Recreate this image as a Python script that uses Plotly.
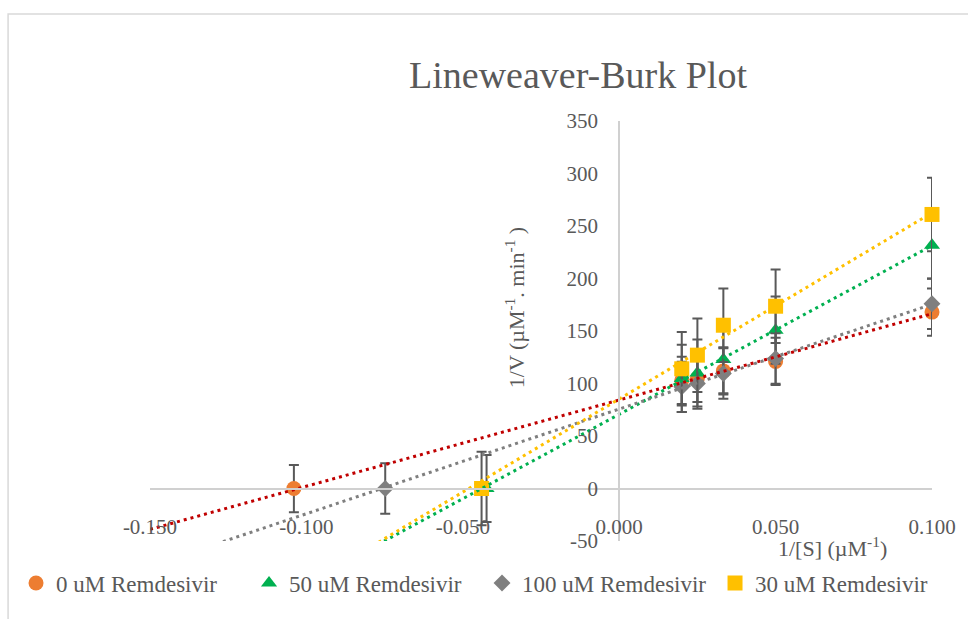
import numpy as np
import plotly.graph_objects as go

# ---- data ----
inv_s = [0.02, 0.025, 0.0333, 0.05, 0.1]          # 1/[S] (uM^-1)

series_names = ["0 uM Remdesivir", "50 uM Remdesivir", "100 uM Remdesivir", "30 uM Remdesivir"]
inv_v_0 = [103, 105, 112, 121, 168]
inv_v_50 = [104.8, 110, 122.8, 150.8, 231.7]
inv_v_100 = [96.8, 100, 109.5, 123.8, 176]
inv_v_30 = [114, 127, 155.5, 173.6, 261]
x_intercepts = [-0.104, -0.0424, -0.0748, -0.044]   # plotted -1/Km points (at 1/V = 0)
error_values = [22.5, 32, 24, 35]                   # error bar sizes per series

x_tickvals = [-0.15, -0.1, -0.05, 0.0, 0.05, 0.1]
x_ticktext = ["-0.150", "-0.100", "-0.050", "0.000", "0.050", "0.100"]
y_tickvals = [-50, 0, 50, 100, 150, 200, 250, 300, 350]
y_ticktext = ["-50", "0", "50", "100", "150", "200", "250", "300", "350"]

# ---- styling ----
marker_colors = ["#ED7D31", "#00B050", "#7F7F7F", "#FFC000"]
trend_colors = ["#C00000", "#00B050", "#7F7F7F", "#FFC000"]
symbols = ["circle", "triangle-up", "diamond", "square"]
sizes = [15, 14, 13, 15]
FONT = "Palatino Linotype, Book Antiqua, Palatino, Liberation Serif, serif"
TXT = "#595959"
X_RANGE = [-0.15, 0.1]
Y_RANGE = [-50, 350]

W, H = 968, 619
L, R, T, B = 150, 30, 121, 78
PW, PH = W - L - R, H - T - B

all_y = [inv_v_0, inv_v_50, inv_v_100, inv_v_30]

fig = go.Figure()

for name, ys, xi, err, col, sym, sz in zip(series_names, all_y, x_intercepts,
                                           error_values, marker_colors, symbols, sizes):
    xs = [xi] + inv_s
    yv = [0] + ys
    fig.add_trace(go.Scatter(
        x=xs, y=yv, mode="markers", name=name,
        marker=dict(symbol=sym, size=sz, color=col, line=dict(width=0)),
        error_y=dict(type="constant", value=err, color="#595959", thickness=2, width=5),
        cliponaxis=False,
    ))

# linear trendlines (fit on the measured points), forecast back to the axis start
for ys, col in zip(all_y, trend_colors):
    m, b = np.polyfit(inv_s, ys, 1)
    xs = np.array(X_RANGE)
    fig.add_trace(go.Scatter(
        x=xs, y=m * xs + b, mode="lines", showlegend=False, hoverinfo="skip",
        line=dict(color=col, width=3, dash="3px,4px"),
    ))

fig.update_layout(
    width=W, height=H,
    margin=dict(l=L, r=R, t=T, b=B),
    paper_bgcolor="white", plot_bgcolor="white",
    font=dict(family=FONT, color=TXT, size=20),
    title=dict(text="Lineweaver-Burk Plot", font=dict(size=38, color=TXT, family=FONT),
               x=578 / W, xref="container", xanchor="center",
               y=1 - 75 / H, yref="container", yanchor="middle"),
    showlegend=True,
    legend=dict(orientation="h", x=(15 - L) / PW, xanchor="left",
                y=(T + PH - 583) / PH, yanchor="middle",
                font=dict(size=23, color=TXT, family=FONT),
                itemwidth=30, entrywidth=188, entrywidthmode="pixels",
                bgcolor="rgba(0,0,0,0)"),
    xaxis=dict(range=X_RANGE, anchor="free", position=(0 - Y_RANGE[0]) / (Y_RANGE[1] - Y_RANGE[0]),
               tickvals=x_tickvals, ticktext=x_ticktext, showgrid=False, zeroline=False,
               showline=True, linecolor="#d0d0d0", linewidth=2,
               ticks="outside", ticklen=19, tickcolor="rgba(0,0,0,0)",
               tickfont=dict(size=21, color=TXT, family=FONT)),
    yaxis=dict(range=Y_RANGE, anchor="free", position=(0 - X_RANGE[0]) / (X_RANGE[1] - X_RANGE[0]),
               tickvals=y_tickvals, ticktext=y_ticktext, showgrid=False, zeroline=False,
               showline=True, linecolor="#d0d0d0", linewidth=2,
               ticks="outside", ticklen=16, tickcolor="rgba(0,0,0,0)",
               tickfont=dict(size=21, color=TXT, family=FONT)),
    annotations=[
        dict(text="1/V (µM<sup>-1</sup>. min<sup>-1</sup> )", xref="paper", yref="paper",
             x=(518 - L) / PW, y=(T + PH - 308) / PH, textangle=-90, showarrow=False,
             xanchor="center", yanchor="middle", font=dict(size=22, color=TXT, family=FONT)),
        dict(text="1/[S] (µM<sup>-1</sup>)", xref="paper", yref="paper",
             x=(838 - L) / PW, y=(T + PH - 547) / PH, showarrow=False,
             xanchor="center", yanchor="middle", font=dict(size=22, color=TXT, family=FONT)),
    ],
    shapes=[
        dict(type="rect", xref="paper", yref="paper",
             x0=(7 - L) / PW, x1=(W + 20 - L) / PW,
             y0=(T + PH - 14) / PH, y1=(T + PH - (H + 20)) / PH,
             line=dict(color="#d9d9d9", width=1.5), fillcolor="rgba(0,0,0,0)", layer="below"),
    ],
)

fig.write_html(
    "out.html",
    config={"displayModeBar": False},
    post_script="document.body.style.margin='0';document.body.style.overflow='hidden';",
)
